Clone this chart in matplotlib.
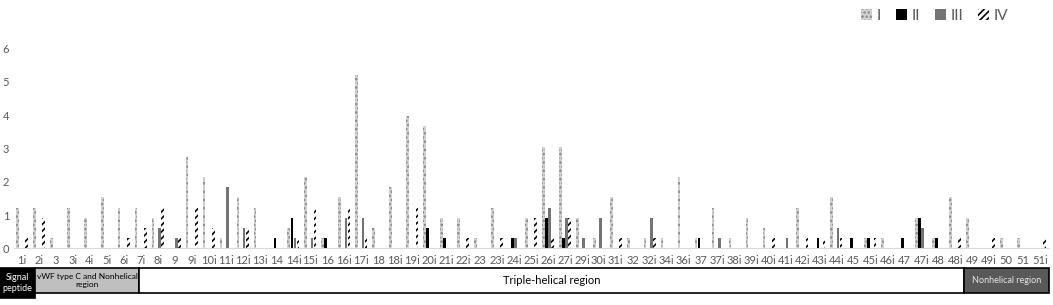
import matplotlib
matplotlib.use("Agg")
import matplotlib.pyplot as plt
import numpy as np
from matplotlib.patches import Patch, Rectangle

plt.rcParams["font.family"] = ["Lato", "DejaVu Sans"]
plt.rcParams["hatch.linewidth"] = 1.2

# -------------------------------
# Data
# -------------------------------
categories = ["1i", "2i", "3", "3i", "4i", "5i", "6i", "7i", "8i", "9", "9i", "10i",
              "11i", "12i", "13i", "14", "14i", "15i", "16", "16i", "17i", "18", "18i",
              "19i", "20i", "21i", "22i", "23", "23i", "24i", "25i", "26i", "27i", "29i",
              "30i", "31i", "32", "32i", "34i", "36i", "37", "37i", "38i", "39i", "40i",
              "41i", "42i", "43i", "44i", "45", "45i", "46i", "47", "47i", "48", "48i",
              "49", "49i", "50", "51", "51i"]

series_I = [1.22, 1.22, 0.31, 1.22, 0.92, 1.53, 1.22, 1.22, 0.92, 0, 2.75, 2.14,
            0.31, 1.53, 1.22, 0, 0.61, 2.14, 0.31, 1.53, 5.19, 0.61, 1.83,
            3.97, 3.66, 0.92, 0.92, 0.31, 1.22, 0, 0.92, 3.05, 3.05, 0.92,
            0.31, 1.53, 0.31, 0.31, 0.31, 2.14, 0.31, 1.22, 0.31, 0.92, 0.61,
            0, 1.22, 0, 1.53, 0, 0.31, 0.31, 0, 0.92, 0.31, 1.53,
            0.92, 0, 0.31, 0.31, 0]
series_II = [0, 0, 0, 0, 0, 0, 0, 0, 0, 0, 0, 0,
             0, 0, 0, 0.31, 0.92, 0, 0.31, 0, 0, 0, 0,
             0, 0.61, 0.31, 0, 0, 0, 0.31, 0, 0.92, 0.31, 0,
             0, 0, 0, 0, 0, 0, 0.31, 0, 0, 0, 0,
             0, 0, 0.31, 0, 0.31, 0.31, 0, 0.31, 0.92, 0.31, 0,
             0, 0, 0, 0, 0]
series_III = [0, 0, 0, 0, 0, 0, 0, 0, 0.61, 0.31, 0, 0,
              1.83, 0.61, 0, 0, 0.31, 0.31, 0, 0.92, 0.92, 0, 0,
              0, 0, 0, 0, 0, 0, 0.31, 0, 1.22, 0.92, 0.31,
              0.92, 0, 0, 0.92, 0, 0, 0, 0.31, 0, 0, 0,
              0.31, 0, 0, 0.61, 0, 0, 0, 0, 0.61, 0, 0,
              0, 0, 0, 0, 0]
series_IV = [0.31, 0.92, 0, 0, 0, 0, 0.31, 0.61, 1.22, 0.31, 1.22, 0.61,
             0, 0.61, 0, 0, 0.31, 1.22, 0, 1.22, 0.31, 0, 0,
             1.22, 0, 0, 0.31, 0, 0.31, 0, 0.92, 0.31, 0.92, 0,
             0, 0.31, 0, 0.31, 0, 0, 0, 0, 0, 0, 0.31,
             0, 0.31, 0.31, 0.31, 0, 0.31, 0, 0, 0, 0, 0.31,
             0, 0.31, 0, 0, 0.31]

series_names = ["I", "II", "III", "IV"]
y_ticks = [0, 1, 2, 3, 4, 5, 6]

# domain boxes under the axis: label, left px, right px, fill, text colour
regions = [
    ("Signal\npeptide", 0, 35, "#000000", "#ffffff"),
    ("vWF type C and Nonhelical\nregion", 35, 139, "#bfbfbf", "#000000"),
    ("Triple-helical region", 139, 964, "#ffffff", "#000000"),
    ("Nonhelical region", 964, 1049, "#595959", "#e6e6e6"),
]

# -------------------------------
# Styles
# -------------------------------
styles = [
    dict(color="#d2d2d2", edgecolor="#858585", hatch="....", linewidth=0),
    dict(color="#000000", edgecolor="#000000", linewidth=0),
    dict(color="#737373", edgecolor="#737373", linewidth=0),
    dict(color="#ffffff", edgecolor="#000000", hatch="/////", linewidth=0),
]

W, H = 1053, 305
fig = plt.figure(figsize=(W / 100, H / 100), dpi=100)
ax = fig.add_axes([13.5 / W, (H - 248.3) / H, 1035 / W, 233.1 / H])

x = np.arange(len(categories))
slot = 0.183
for i, (vals, st) in enumerate(zip([series_I, series_II, series_III, series_IV], styles)):
    ax.bar(x + (i - 1.5) * slot, vals, width=0.16, **st)

ax.set_xlim(-0.5, len(categories) - 0.5)
ax.set_ylim(0, 7)
ax.set_xticks(x)
ax.set_xticklabels(categories)
ax.set_yticks(y_ticks)
ax.tick_params(axis="x", length=0, pad=5, labelsize=8, labelcolor="#595959")
ax.tick_params(axis="y", length=0, pad=3, labelsize=8, labelcolor="#595959")
for side in ["top", "right", "left"]:
    ax.spines[side].set_visible(False)
ax.spines["bottom"].set_color("#d9d9d9")
ax.spines["bottom"].set_linewidth(0.8)

handles = [Patch(facecolor=st["color"], edgecolor=st["edgecolor"], hatch=st.get("hatch"),
                 linewidth=0) for st in styles]
fig.legend(handles, series_names, loc="center right", bbox_to_anchor=(1022 / W, 1 - 16 / H),
           ncol=4, frameon=False, fontsize=11, handlelength=0.7, handleheight=0.7,
           handletextpad=0.3, columnspacing=1.0, labelcolor="#595959")

# region boxes along the bottom
bax = fig.add_axes([0, 0, 1, 1], facecolor="none")
bax.set_xlim(0, W)
bax.set_ylim(H, 0)
bax.axis("off")
for label, x0, x1, fill, tcol in regions:
    top, bottom = 268, 293
    if label.startswith("Signal"):
        bottom = 298
    bax.add_patch(Rectangle((x0, top), x1 - x0, bottom - top, facecolor=fill,
                            edgecolor="#000000", linewidth=1.2))
    if "Triple" in label:
        size = 8
    elif "vWF" in label:
        size = 6
    else:
        size = 6.5
    bax.text((x0 + x1) / 2, (top + bottom) / 2, label, ha="center", va="center",
             fontsize=size, color=tcol, linespacing=1.2)

fig.savefig("out.png", dpi=100)
